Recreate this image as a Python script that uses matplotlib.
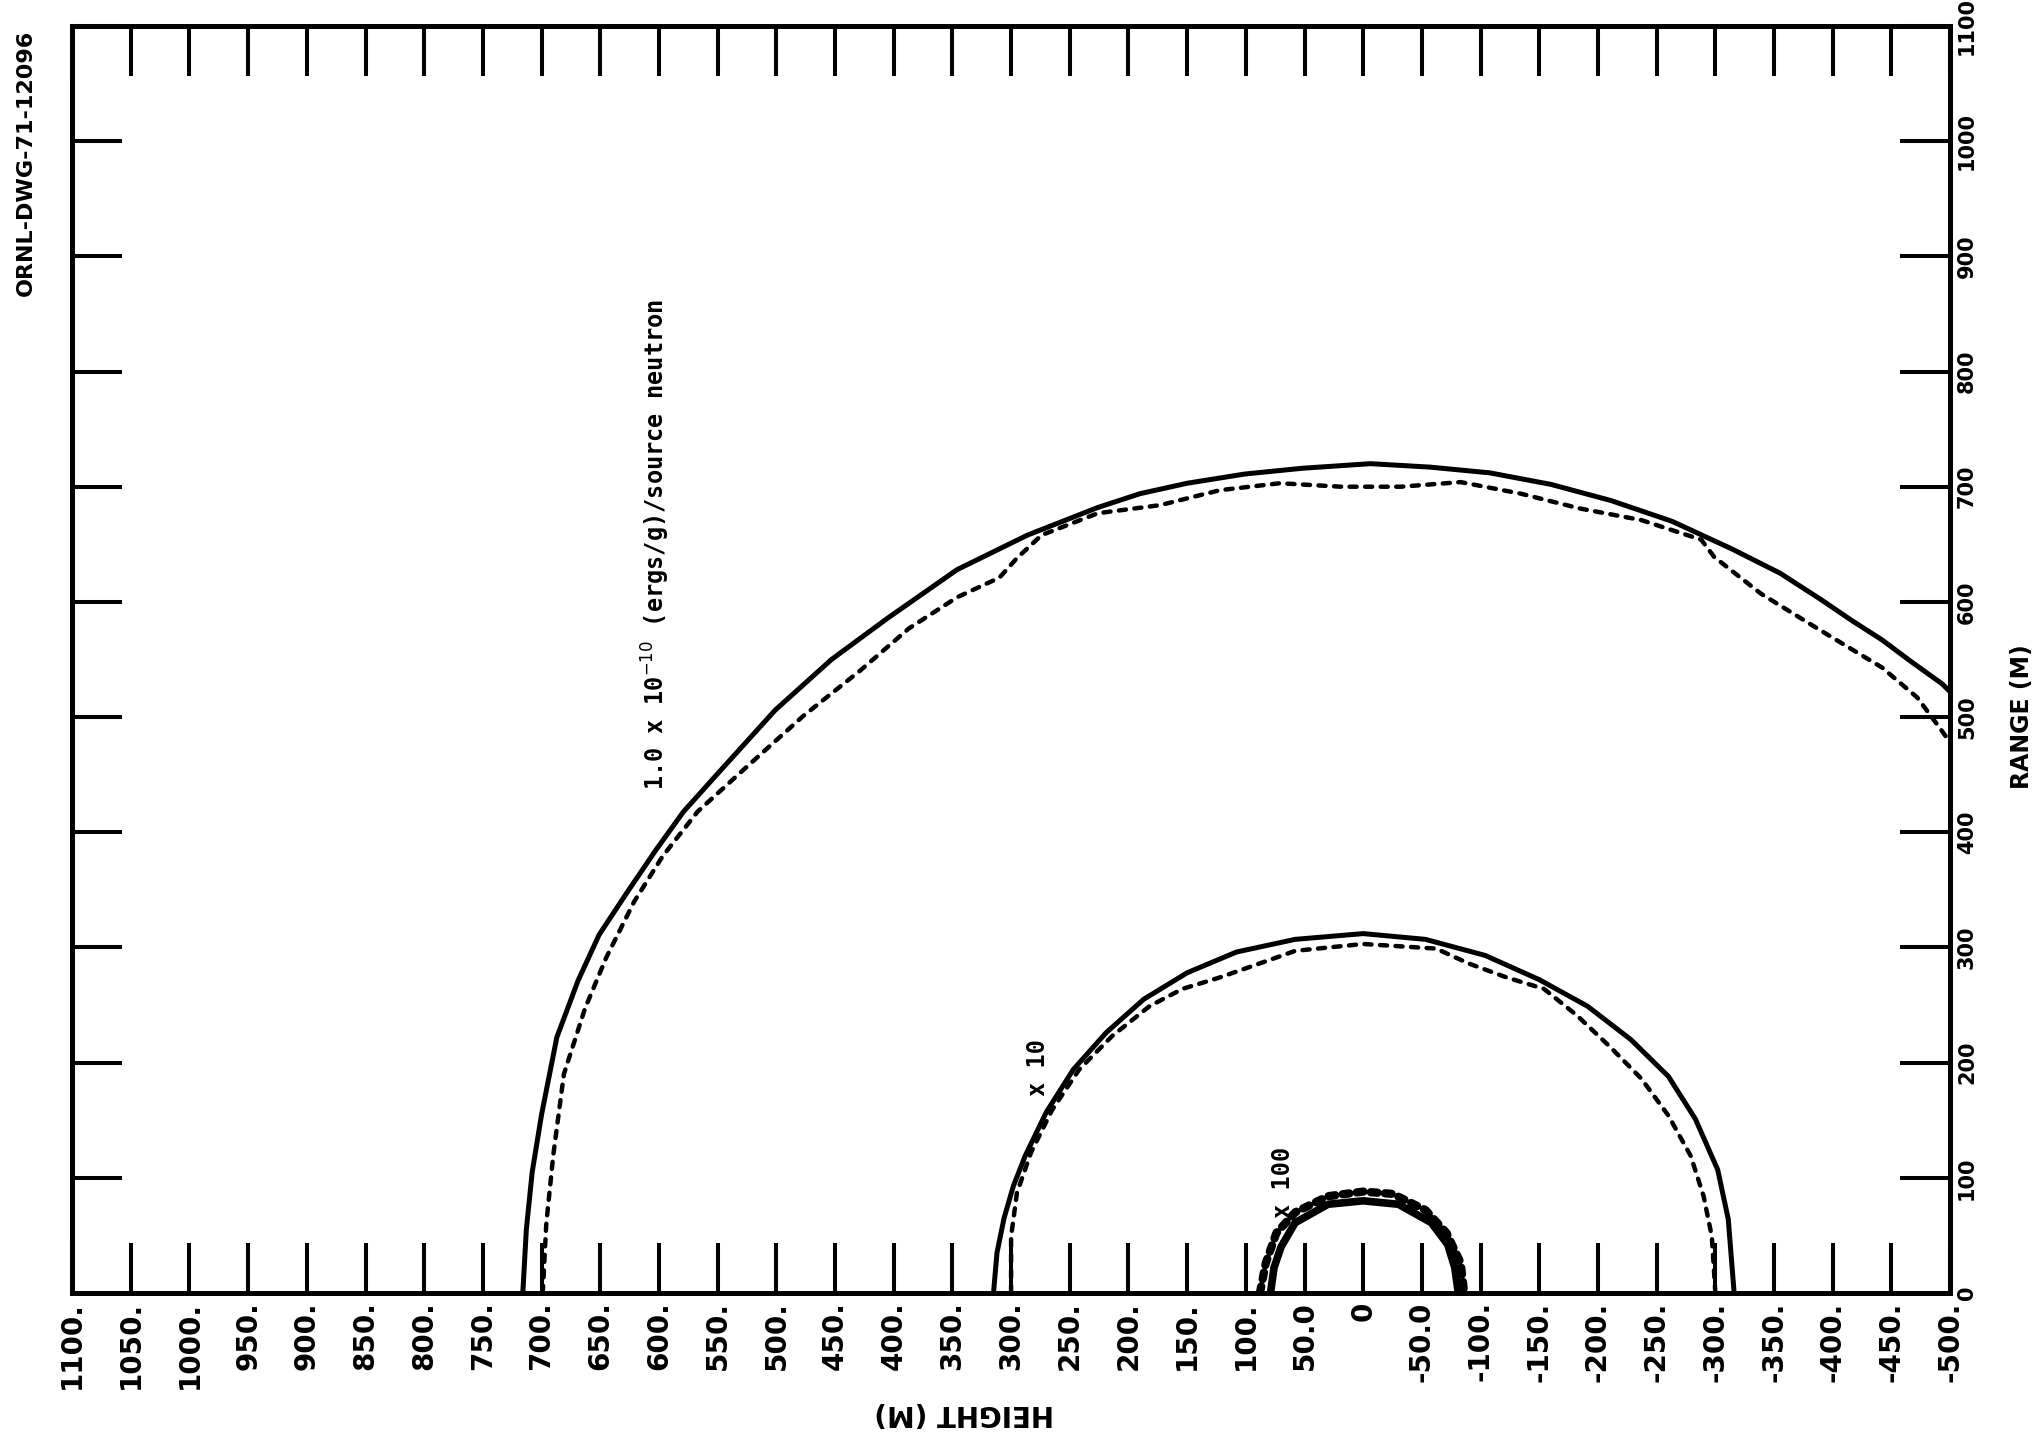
import matplotlib.pyplot as plt

# axis ticks (height runs right-to-left on the scan)
height_ticks = [1100, 1050, 1000, 950, 900, 850, 800, 750, 700, 650, 600, 550,
                500, 450, 400, 350, 300, 250, 200, 150, 100, 50, 0, -50, -100,
                -150, -200, -250, -300, -350, -400, -450, -500]
height_labels = ["1100.", "1050.", "1000.", "950.", "900.", "850.", "800.",
                 "750.", "700.", "650.", "600.", "550.", "500.", "450.", "400.",
                 "350.", "300.", "250.", "200.", "150.", "100.", "50.0", "0",
                 "-50.0", "-100.", "-150.", "-200.", "-250.", "-300.", "-350.",
                 "-400.", "-450.", "-500."]
range_ticks = [0, 100, 200, 300, 400, 500, 600, 700, 800, 900, 1000, 1100]
range_labels = ["0", "100", "200", "300", "400", "500", "600", "700", "800",
                "900", "1000", "1100"]

# 1.0e-10 contour
big_solid_h = [716, 713, 708, 700, 687, 669, 651, 627, 603, 579, 549, 501, 453,
               405, 346, 286, 226, 190, 150, 101, 52, -6, -57, -108, -160,
               -211, -263, -314, -355, -390, -416, -442, -467, -493, -500]
big_solid_r = [0, 55, 105, 155, 222, 271, 311, 348, 384, 418, 452, 506, 550,
               586, 628, 658, 682, 694, 703, 711, 716, 720, 717, 712, 702,
               688, 670, 646, 625, 602, 584, 567, 548, 529, 522]
big_dash_h = [699, 696, 690, 681, 663, 645, 621, 597, 567, 525, 477, 429, 387,
              346, 310, 295, 274, 226, 173, 122, 71, 19, -32, -83, -134, -185,
              -237, -288, -299, -339, -390, -442, -472, -493, -500]
big_dash_r = [0, 60, 120, 190, 247, 291, 340, 379, 418, 457, 501, 540, 577,
              604, 621, 638, 658, 677, 684, 697, 703, 700, 700, 704, 694, 681,
              671, 654, 639, 607, 575, 543, 517, 488, 478]

# x 10 contour
mid_solid_h = [315, 312, 306, 298, 288, 270, 247, 219, 187, 150, 108, 58, 0,
               -53, -104, -150, -191, -228, -260, -283, -302, -311, -316]
mid_solid_r = [0, 35, 65, 93, 119, 157, 194, 226, 255, 278, 296, 307, 312,
               307, 293, 272, 249, 220, 188, 151, 107, 64, 0]
mid_dash_h = [300, 300, 295, 283, 265, 242, 214, 182, 154, 122, 94, 58, 0, -62,
              -90, -122, -154, -182, -210, -237, -260, -279, -290, -297, -300]
mid_dash_r = [0, 49, 87, 122, 159, 194, 223, 249, 264, 274, 284, 297, 303, 299,
              286, 274, 264, 241, 214, 186, 154, 119, 84, 49, 0]

# x 100 contour
small_solid_h = [79, 76, 70, 58, 30, 0, -30, -58, -72, -78, -81]
small_solid_r = [0, 22, 40, 61, 77, 80, 77, 61, 42, 22, 0]
small_dash_h = [88, 83, 74, 58, 30, 0, -25, -53, -71, -83, -86]
small_dash_r = [0, 26, 52, 70, 84, 88, 86, 72, 52, 26, 0]

fig = plt.figure(figsize=(20.42, 14.44), dpi=100)
ax = fig.add_axes([0.0353, 0.1046, 0.9197, 0.8774])
ax.set_xlim(1100, -500)
ax.set_ylim(0, 1100)

for sp in ax.spines.values():
    sp.set_linewidth(3.6)

ax.set_xticks(height_ticks)
ax.set_xticklabels(height_labels, rotation=90, fontsize=20, fontweight="bold")
ax.set_yticks(range_ticks)
ax.yaxis.tick_right()
ax.set_yticklabels(range_labels, rotation=90, fontsize=15, fontweight="bold",
                   va="center")
ax.tick_params(axis="both", direction="in", length=36, width=2.9,
               top=True, bottom=True, left=True, right=True,
               labelleft=False, labelright=True, labeltop=False)
ax.tick_params(axis="x", pad=6)
ax.tick_params(axis="y", pad=5)

solid = dict(color="black", lw=3.6, solid_capstyle="round",
             solid_joinstyle="round")
dashed = dict(color="black", lw=3.2, linestyle=(0, (1.6, 1.9)),
              dash_capstyle="round")

ax.plot(big_solid_h, big_solid_r, **solid)
ax.plot(big_dash_h, big_dash_r, **dashed)
ax.plot(mid_solid_h, mid_solid_r, **solid)
ax.plot(mid_dash_h, mid_dash_r, **dashed)
ax.plot(small_solid_h, small_solid_r, color="black", lw=5.5,
        solid_capstyle="round", solid_joinstyle="round")
ax.plot(small_dash_h, small_dash_r, color="black", lw=6,
        linestyle=(0, (0.8, 0.9)), dash_capstyle="round")

ax.text(603, 437, r"1.0 x 10$^{-10}$ (ergs/g)/source neutron", rotation=90,
        ha="center", va="bottom", family="DejaVu Sans Mono", fontsize=17,
        fontweight="bold")
ax.text(277, 171, "x 10", rotation=90, ha="center", va="bottom",
        family="DejaVu Sans Mono", fontsize=17, fontweight="bold")
ax.text(68, 65, "x 100", rotation=90, ha="center", va="bottom",
        family="DejaVu Sans Mono", fontsize=17, fontweight="bold")

fig.text(0.0127, 0.887, "ORNL-DWG-71-12096", rotation=90, ha="center",
         va="center", fontsize=16, fontweight="bold")
fig.text(0.472, 0.0215, "HEIGHT (M)", rotation=180, ha="center", va="center",
         fontsize=20, fontweight="bold")
fig.text(0.99, 0.504, "RANGE (M)", rotation=90, ha="center", va="center",
         fontsize=17, fontweight="bold")

fig.savefig("out.png", dpi=100)
